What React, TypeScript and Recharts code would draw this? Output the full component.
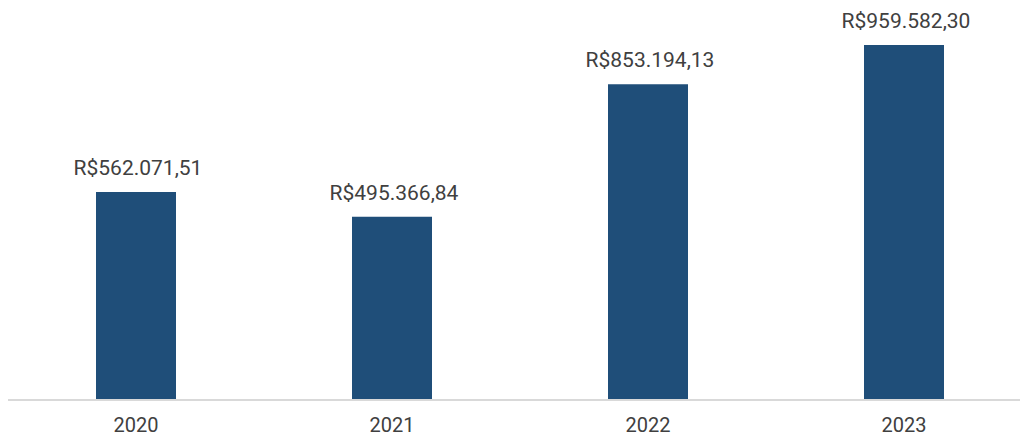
import React from 'react';
import { BarChart, Bar, XAxis, YAxis, LabelList } from 'recharts';

const years = ['2020', '2021', '2022', '2023'];
const revenue = [562071.51, 495366.84, 853194.13, 959582.3];

const data = years.map((year, i) => ({ year, value: revenue[i] }));

const formatBRL = (v: number) =>
  'R$' +
  v
    .toFixed(2)
    .replace('.', ',')
    .replace(/\B(?=(\d{3})+(?!\d))/g, '.');

const App: React.FC = () => {
  return (
    <div style={{ position: 'absolute', left: 0, top: 0, width: 1020, height: 437, overflow: 'hidden', background: '#fff' }}>
      <BarChart
        width={1020}
        height={437}
        data={data}
        margin={{ top: 30, right: -12, bottom: 0, left: 8 }}
        style={{ fontFamily: 'Roboto, sans-serif' }}
      >
        <XAxis
          dataKey="year"
          height={37}
          axisLine={{ stroke: '#d9d9d9', strokeWidth: 2 }}
          tickLine={false}
          tick={{ fill: '#404040', fontSize: 20 }}
          tickMargin={12}
        />
        <YAxis hide domain={[0, 1000000]} />
        <Bar dataKey="value" fill="#1f4e79" barSize={80} isAnimationActive={false}>
          <LabelList
            dataKey="value"
            position="top"
            offset={17}
            dx={2}
            formatter={(v: any) => formatBRL(Number(v))}
            style={{ fill: '#404040', fontSize: 21, fontFamily: 'Roboto, sans-serif' }}
          />
        </Bar>
      </BarChart>
    </div>
  );
};

export default App;
